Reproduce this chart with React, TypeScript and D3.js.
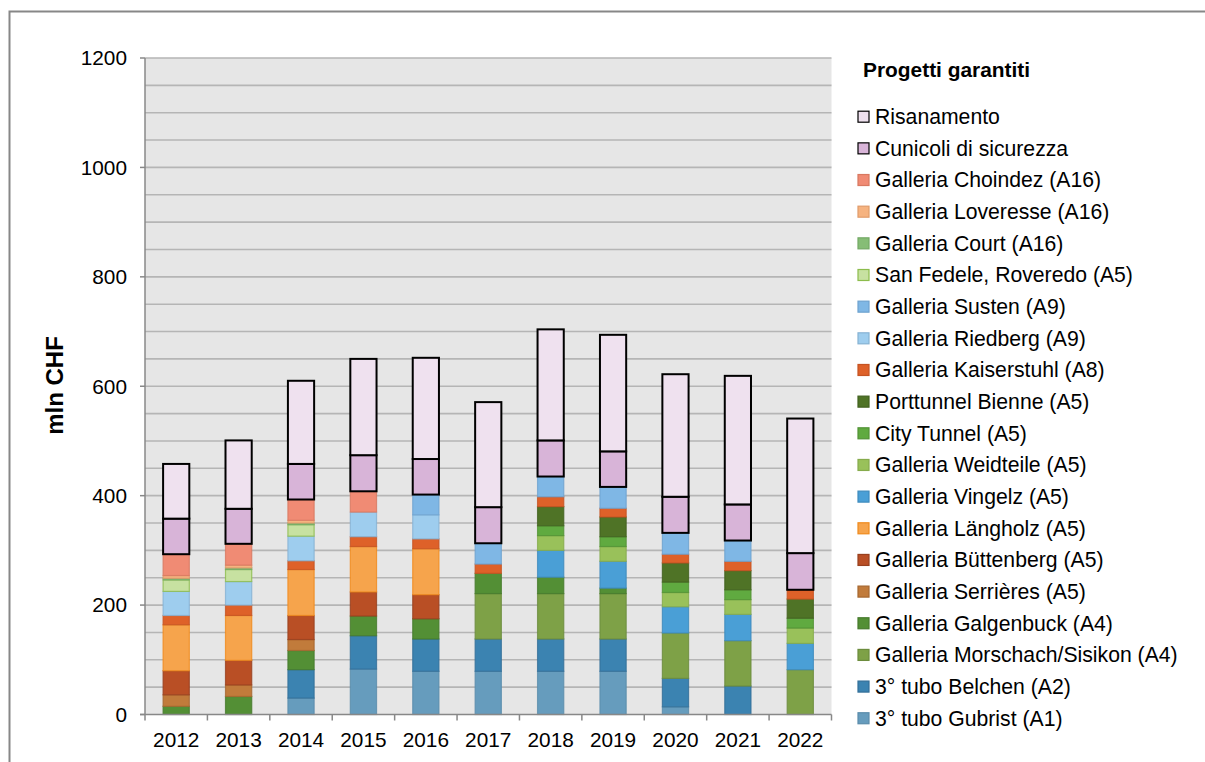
import React from "react";
import * as d3 from "d3";

const years = ["2012", "2013", "2014", "2015", "2016", "2017", "2018", "2019", "2020", "2021", "2022"];

// series values (mln CHF), stacked bottom-up in this order
const gubrist = [0, 0, 30, 83, 79, 79, 79, 79, 14, 0, 0];
const belchen = [0, 0, 52, 61, 59, 59, 59, 59, 52, 52, 0];
const morschach = [0, 0, 0, 0, 0, 83, 83, 83, 83, 83, 82];
const galgenbuck = [15, 33, 35, 36, 37, 37, 30, 10, 0, 0, 0];
const serrieres = [21, 21, 20, 0, 0, 0, 0, 0, 0, 0, 0];
const buttenberg = [44, 45, 44, 44, 44, 0, 0, 0, 0, 0, 0];
const langholz = [84, 82, 84, 83, 84, 0, 0, 0, 0, 0, 0];
const vingelz = [0, 0, 0, 0, 0, 0, 49, 49, 48, 48, 48];
const weidteile = [0, 0, 0, 0, 0, 0, 27, 27, 26, 27, 28];
const cityTunnel = [0, 0, 0, 0, 0, 0, 18, 18, 19, 18, 18];
const porttunnel = [0, 0, 0, 0, 0, 0, 35, 36, 35, 35, 35];
const kaiserstuhl = [17, 19, 16, 18, 18, 17, 18, 16, 16, 17, 17];
const riedberg = [44, 43, 45, 45, 44, 0, 0, 0, 0, 0, 0];
const susten = [0, 0, 0, 0, 37, 38, 37, 39, 39, 38, 0];
const sanFedele = [21, 22, 21, 0, 0, 0, 0, 0, 0, 0, 0];
const court = [3, 3, 3, 0, 0, 0, 0, 0, 0, 0, 0];
const loveresse = [5, 5, 5, 0, 0, 0, 0, 0, 0, 0, 0];
const choindez = [39, 39, 38, 38, 0, 0, 0, 0, 0, 0, 0];
const cunicoli = [65, 64, 65, 66, 65, 66, 66, 65, 66, 66, 67];
const risanamento = [100, 125, 152, 176, 185, 192, 203, 213, 224, 235, 246];

const seriesNames = [
  "3° tubo Gubrist (A1)",
  "3° tubo Belchen (A2)",
  "Galleria Morschach/Sisikon (A4)",
  "Galleria Galgenbuck (A4)",
  "Galleria Serrières (A5)",
  "Galleria Büttenberg (A5)",
  "Galleria Längholz (A5)",
  "Galleria Vingelz (A5)",
  "Galleria Weidteile (A5)",
  "City Tunnel (A5)",
  "Porttunnel Bienne (A5)",
  "Galleria Kaiserstuhl (A8)",
  "Galleria Riedberg (A9)",
  "Galleria Susten (A9)",
  "San Fedele, Roveredo (A5)",
  "Galleria Court (A16)",
  "Galleria Loveresse (A16)",
  "Galleria Choindez (A16)",
  "Cunicoli di sicurezza",
  "Risanamento",
];
const seriesValues = [
  gubrist, belchen, morschach, galgenbuck, serrieres, buttenberg, langholz,
  vingelz, weidteile, cityTunnel, porttunnel, kaiserstuhl, riedberg, susten,
  sanFedele, court, loveresse, choindez, cunicoli, risanamento,
];
const seriesColors = [
  "#669cbd", "#3b83b1", "#7ea147", "#538f35", "#c17b3b", "#b94f25", "#f6a44c",
  "#4a9fd6", "#99c15a", "#60aa40", "#4f7326", "#de6129", "#9ecdee", "#7fb7e5",
  "#c7e1a1", "#86bd76", "#f6b380", "#f08b74", "#d8b4d8", "#efe1ef",
];
const seriesStrokes = [
  "#5a8cab", "#336f98", "#6c8c3d", "#467a2c", "#a6672f", "#98401e", "#f08a1c",
  "#3f8bbd", "#86ab4c", "#529235", "#42611f", "#c55322", "#86b2d3", "#6ea2cf",
  "#8cbc4c", "#73a864", "#e09b6a", "#d87860", "#000000", "#000000",
];
const yTicks = [0, 200, 400, 600, 800, 1000, 1200];

const W = 1205;
const H = 762;
const plotL = 145;
const plotR = 831.5;
const plotT = 58;
const plotB = 714.5;
const font = "'Liberation Sans', Arial, sans-serif";

export default function App() {
  const x = d3.scaleBand<string>().domain(years).range([plotL, plotR]).paddingInner(0.58).paddingOuter(0.29);
  const y = d3.scaleLinear().domain([0, 1200]).range([plotB, plotT]);

  const table = years.map((yr, i) => {
    const row: Record<string, number | string> = { year: yr };
    seriesNames.forEach((n, k) => (row[n] = seriesValues[k][i]));
    return row;
  });
  const stacked = d3.stack<Record<string, number | string>>().keys(seriesNames)(table as any);

  const step = (plotR - plotL) / years.length;
  const grid = d3.range(50, 1201, 50);
  const legendX = 858;
  const legendY0 = 116.7;
  const legendStep = 31.66;
  const legendOrder = seriesNames.map((_, i) => i).reverse();

  return (
    <svg width={W} height={H} style={{ position: "absolute", left: 0, top: 0, background: "#fff" }}>
      <rect x={9.5} y={11.5} width={W} height={H} fill="#fff" stroke="#878787" strokeWidth={2} />
      <rect x={plotL} y={plotT} width={plotR - plotL} height={plotB - plotT} fill="#e6e6e6" />
      {grid.map((v) => (
        <line key={v} x1={plotL} x2={plotR} y1={y(v)} y2={y(v)} stroke="#b5b5b5" strokeWidth={1.6} />
      ))}
      {stacked.map((s, k) =>
        s.map((d, i) => {
          const h = y(d[0]) - y(d[1]);
          if (h <= 0) return null;
          const black = k >= 18;
          return (
            <rect
              key={`${k}-${i}`}
              x={x(years[i])!}
              y={y(d[1])}
              width={x.bandwidth()}
              height={h}
              fill={seriesColors[k]}
              stroke={seriesStrokes[k]}
              strokeWidth={black ? 2 : 1.2}
              strokeOpacity={black ? 1 : 0.8}
            />
          );
        })
      )}
      {/* axes */}
      <line x1={plotL} x2={plotL} y1={plotT} y2={plotB} stroke="#888" strokeWidth={1.5} />
      <line x1={plotL - 5} x2={plotR} y1={plotB} y2={plotB} stroke="#888" strokeWidth={1.5} />
      {yTicks.map((t) => (
        <g key={t}>
          <line x1={plotL - 5} x2={plotL} y1={y(t)} y2={y(t)} stroke="#888" strokeWidth={1.5} />
          <text x={127} y={y(t)} dy="0.35em" textAnchor="end" fontFamily={font} fontSize={20.8} fill="#000">
            {t}
          </text>
        </g>
      ))}
      {d3.range(0, years.length + 1).map((i) => (
        <line key={i} x1={plotL + i * step} x2={plotL + i * step} y1={plotB} y2={plotB + 6} stroke="#888" strokeWidth={1.5} />
      ))}
      {years.map((yr) => (
        <text key={yr} x={x(yr)! + x.bandwidth() / 2} y={740} dy="0.35em" textAnchor="middle" fontFamily={font} fontSize={20.8} fill="#000">
          {yr}
        </text>
      ))}
      <text
        transform={`translate(63,385.5) rotate(-90)`}
        textAnchor="middle"
        fontFamily={font}
        fontWeight="bold"
        fontSize={24}
        fill="#000"
      >
        mln CHF
      </text>
      {/* legend */}
      <text x={863} y={70} dy="0.35em" fontFamily={font} fontWeight="bold" fontSize={20.9} fill="#000">
        Progetti garantiti
      </text>
      {legendOrder.map((k, j) => {
        const cy = legendY0 + j * legendStep;
        return (
          <g key={k}>
            <rect x={legendX} y={cy - 5.5} width={11} height={11} fill={seriesColors[k]} stroke={seriesStrokes[k]} strokeWidth={1.2} />
            <text x={875} y={cy} dy="0.35em" fontFamily={font} fontSize={21.2} fill="#000">
              {seriesNames[k]}
            </text>
          </g>
        );
      })}
    </svg>
  );
}
